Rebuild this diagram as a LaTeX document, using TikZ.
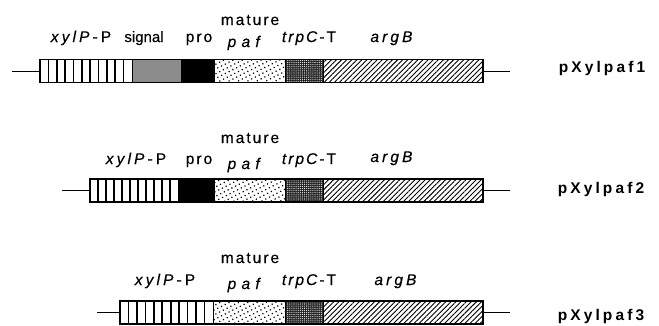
\documentclass[tikz,border=0pt]{standalone}
\usepackage{fontspec}
\setmainfont{Liberation Sans}
\newfontfamily\lsA[LetterSpace=20,FakeBold=0.4]{Liberation Sans}
\newfontfamily\lsB[LetterSpace=0,FakeBold=0.4]{Liberation Sans}
\newfontfamily\lsC[LetterSpace=13,FakeBold=0.4]{Liberation Sans}
\newfontfamily\lsD[LetterSpace=34,FakeBold=0.4]{Liberation Sans}
\newfontfamily\lsE[LetterSpace=20]{Liberation Sans}
\usetikzlibrary{patterns.meta}
\definecolor{sig}{RGB}{140,140,140}
\tikzset{
  seg/.style={draw=black, line width=0.8pt, minimum height=23pt, inner sep=0pt, outer sep=0pt, anchor=north west},
  stripebox/.style={seg, fill=white},
  sigbox/.style={seg, fill=sig},
  probox/.style={seg, fill=black},
  pafbox/.style={seg, pattern={Dots[distance=4.2pt, radius=0.85pt, angle=27]}, pattern color=black},
  trpbox/.style={seg, preaction={fill=black!85}, pattern={Dots[distance=2.1pt, radius=0.55pt]}, pattern color=white},
  argbox/.style={seg, pattern={Lines[angle=45, distance=3.6pt, line width=0.9pt]}, pattern color=black},
  outline/.style={line width=1.8pt},
  stripe/.style={line width=1.6pt},
  wire/.style={line width=0.9pt},
  labw/.style={anchor=base, inner sep=0pt, font=\fontsize{15.5pt}{18pt}\lsA},
  labn/.style={anchor=base, inner sep=0pt, font=\fontsize{15pt}{18pt}\lsB},
  lab/.style={anchor=base, inner sep=0pt, font=\fontsize{15.5pt}{18pt}\lsC},
  labp/.style={anchor=base, inner sep=0pt, font=\fontsize{15.5pt}{18pt}\lsD},
  plasmid/.style={anchor=base, inner sep=0pt, font=\fontsize{15.5pt}{18pt}\lsE\bfseries},
}
\begin{document}
\begin{tikzpicture}[x=1pt, y=-1pt]
\useasboundingbox (0,0) rectangle (659,325);
% ---------------- row 1 ----------------
\node[stripebox, minimum width=92pt] (x1) at (40,59.5) {};
\node[sigbox, minimum width=49pt] (s1) at (132,59.5) {};
\node[probox, minimum width=33pt] (p1) at (181,59.5) {};
\node[pafbox, minimum width=71pt] (m1) at (214,59.5) {};
\node[trpbox, minimum width=38pt] (t1) at (285,59.5) {};
\node[argbox, minimum width=160pt] (a1) at (323,59.5) {};
\foreach \i in {1,...,10} \draw[stripe] ([xshift=\i*8.36pt]x1.north west) -- ([xshift=\i*8.36pt]x1.south west);
\draw[outline] (x1.north west) rectangle (a1.south east);
\coordinate (l1) at (12,71);
\coordinate (r1) at (510,71);
\draw[wire] (l1) -- (x1.west);
\draw[wire] (a1.east) -- (r1);
\node[labw] (tx1) at (81,42) {\textit{xylP}-P};
\node[labn] (ts1) at (144,42) {signal};
\node[lab] (tp1) at (199,42) {pro};
\node[lab] (tm1) at (250,25) {mature};
\node[labp] (tf1) at (247,47) {\textit{paf}};
\node[lab] (tt1) at (309,42) {\textit{trpC}-T};
\node[labw] (ta1) at (393,42) {\textit{argB}};
\node[plasmid] (n1) at (602,72) {pXylpaf1};
% ---------------- row 2 ----------------
\node[stripebox, minimum width=88pt] (x2) at (90,179) {};
\node[probox, minimum width=36pt] (p2) at (178,179) {};
\node[pafbox, minimum width=71pt] (m2) at (214,179) {};
\node[trpbox, minimum width=38pt] (t2) at (285,179) {};
\node[argbox, minimum width=160pt] (a2) at (323,179) {};
\foreach \i in {1,...,10} \draw[stripe] ([xshift=\i*8pt]x2.north west) -- ([xshift=\i*8pt]x2.south west);
\draw[outline] (x2.north west) rectangle (a2.south east);
\coordinate (l2) at (62,190.5);
\coordinate (r2) at (510,190.5);
\draw[wire] (l2) -- (x2.west);
\draw[wire] (a2.east) -- (r2);
\node[labw] (tx2) at (136,164) {\textit{xylP}-P};
\node[lab] (tp2) at (199,164) {pro};
\node[lab] (tm2) at (250,143) {mature};
\node[labp] (tf2) at (247,169) {\textit{paf}};
\node[lab] (tt2) at (309,164) {\textit{trpC}-T};
\node[labw] (ta2) at (393,162) {\textit{argB}};
\node[plasmid] (n2) at (601,193) {pXylpaf2};
% ---------------- row 3 ----------------
\node[stripebox, minimum width=93pt] (x3) at (120,301) {};
\node[pafbox, minimum width=72pt] (m3) at (213,301) {};
\node[trpbox, minimum width=38pt] (t3) at (285,301) {};
\node[argbox, minimum width=160pt] (a3) at (323,301) {};
\foreach \i in {1,...,10} \draw[stripe] ([xshift=\i*8.45pt]x3.north west) -- ([xshift=\i*8.45pt]x3.south west);
\draw[outline] (x3.north west) rectangle (a3.south east);
\coordinate (l3) at (97,312.5);
\coordinate (r3) at (510,312.5);
\draw[wire] (l3) -- (x3.west);
\draw[wire] (a3.east) -- (r3);
\node[labw] (tx3) at (165,285) {\textit{xylP}-P};
\node[lab] (tm3) at (250,263) {mature};
\node[labp] (tf3) at (247,289) {\textit{paf}};
\node[lab] (tt3) at (309,285) {\textit{trpC}-T};
\node[labw] (ta3) at (397,285) {\textit{argB}};
\node[plasmid] (n3) at (601,320) {pXylpaf3};
\end{tikzpicture}
\end{document}
